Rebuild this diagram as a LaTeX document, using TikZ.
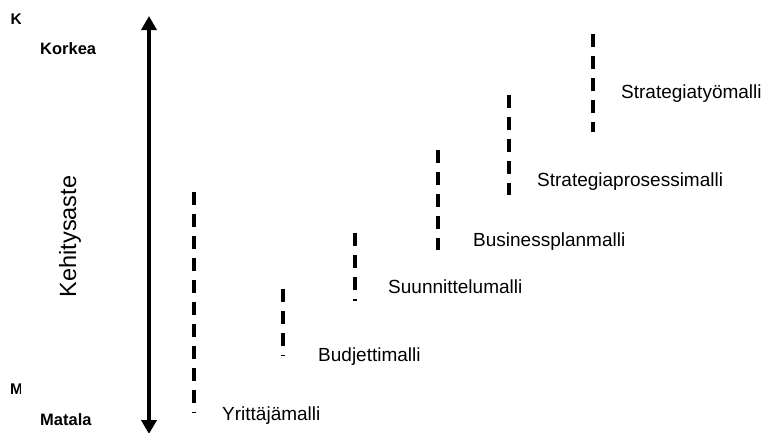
\documentclass[tikz,border=0pt]{standalone}
\usepackage{fontspec}
\setmainfont{Liberation Sans}
\usetikzlibrary{arrows.meta}
\tikzset{
  stage/.style={line width=4pt, dash pattern=on 13pt off 9pt},
  lbl/.style={font=\fontsize{19}{22}\selectfont, anchor=base west, inner sep=0pt},
  bold/.style={font=\fontsize{16.5}{19}\selectfont\bfseries, anchor=base west, inner sep=0pt},
  axis/.style={line width=4pt, {Triangle[width=15pt,length=14pt]}-{Triangle[width=15pt,length=14pt]}}
}
\begin{document}
\begin{tikzpicture}[x=1pt,y=-1pt]
\useasboundingbox[fill=white] (0,0) rectangle (763,432);
% axis
\coordinate (atop) at (149,16);
\coordinate (abot) at (149,434);
\draw[axis] (abot) -- (atop);
\node[font=\fontsize{23.5}{26}\selectfont, rotate=90, anchor=base, inner sep=0pt] (kehi) at (76,236.5) {Kehitysaste};
% left labels
\begin{scope}
\clip (0,0) rectangle (20,432);
\node[bold, font=\fontsize{15.5}{18}\selectfont\bfseries] (k) at (10.5,24) {K};
\node[bold, font=\fontsize{15.5}{18}\selectfont\bfseries] (m) at (10,394) {M};
\end{scope}
\node[bold] (korkea) at (40,54) {Korkea};
\node[bold] (matala) at (40,425) {Matala};
% stages
\coordinate (s1t) at (194,192); \coordinate (s1b) at (194,413);
\coordinate (s2t) at (283,289); \coordinate (s2b) at (283,356);
\coordinate (s3t) at (355,233); \coordinate (s3b) at (355,301);
\coordinate (s4t) at (438,150); \coordinate (s4b) at (438,250);
\coordinate (s5t) at (509,95);  \coordinate (s5b) at (509,195);
\coordinate (s6t) at (593,34);  \coordinate (s6b) at (593,132);
\draw[stage] (s1t) -- (s1b);
\draw[stage] (s2t) -- (s2b);
\draw[stage] (s3t) -- (s3b);
\draw[stage] (s4t) -- (s4b);
\draw[stage] (s5t) -- (s5b);
\draw[stage] (s6t) -- (s6b);
\node[lbl] (l1) at (222,420) {Yrittäjämalli};
\node[lbl] (l2) at (318,361) {Budjettimalli};
\node[lbl] (l3) at (388,293) {Suunnittelumalli};
\node[lbl] (l4) at (473,246) {Businessplanmalli};
\node[lbl] (l5) at (537,186) {Strategiaprosessimalli};
\node[lbl] (l6) at (621,98) {Strategiatyömalli};
\end{tikzpicture}
\end{document}
